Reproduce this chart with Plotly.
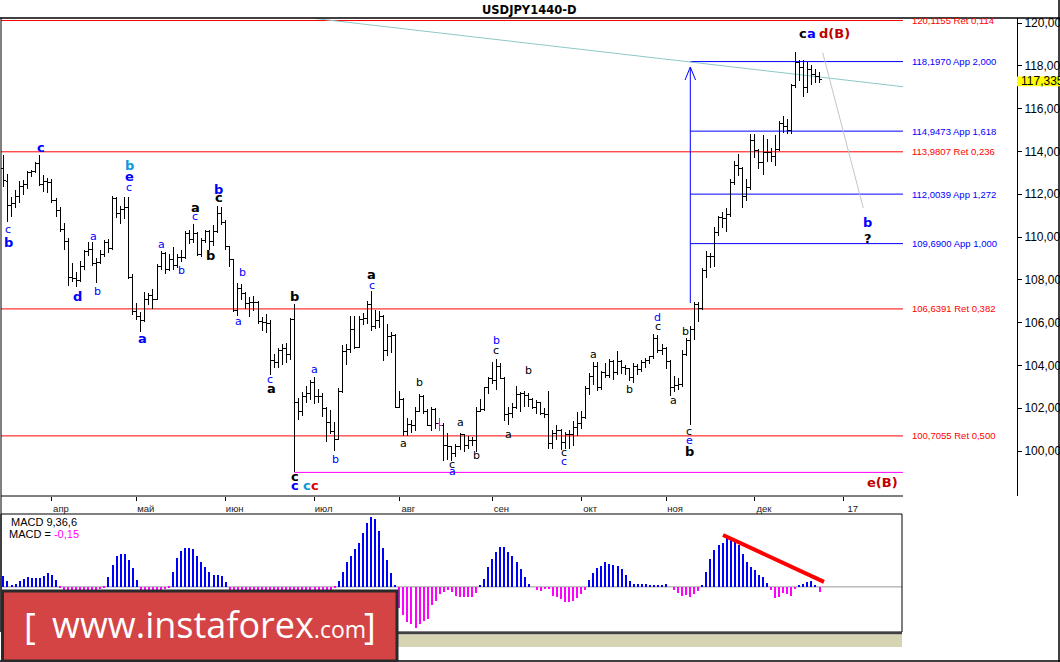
import pandas as pd
import plotly.graph_objects as go

# ------------------------------------------------------------------ data
dates = pd.bdate_range("2016-03-16", "2016-12-23")          # 203 daily bars
calendar = pd.bdate_range("2016-03-16", "2017-01-06")       # incl. future for "17" tick

opens = [
    113.20, 112.60, 111.45, 111.55, 111.90, 112.35, 112.45, 113.00, 113.05, 113.45, 112.45, 112.60,
    112.55, 111.70, 111.25, 110.35, 109.80, 108.10, 108.05, 107.95, 108.60, 109.30, 109.40, 108.75,
    108.80, 109.20, 109.75, 109.45, 111.80, 111.10, 111.30, 111.40, 108.10,
    106.50, 106.30, 106.10, 107.10, 107.25, 107.10, 108.60, 109.25, 108.50, 108.95, 108.65, 109.05,
    109.05, 110.15, 109.90, 110.15, 109.20, 109.85, 110.25, 109.80, 110.25, 111.10,
    110.70, 109.55, 108.95, 106.55, 107.60, 107.35, 106.90, 106.95, 106.95, 106.05, 106.00, 105.95,
    104.25, 104.15, 104.70, 104.80, 104.50, 106.15, 102.25, 101.85, 102.55, 102.70,
    103.20, 102.55, 102.55, 102.00, 101.35, 100.90, 100.55, 102.80, 104.65, 104.75, 105.70, 104.85,
    106.15, 106.20, 106.85, 105.80, 106.10, 106.30, 104.70, 105.35, 105.40,
    102.05, 102.40, 100.90, 101.25, 101.20, 101.85, 102.55, 101.85, 101.20, 101.95, 101.30, 101.20,
    100.25, 100.20, 99.90, 100.20, 100.75, 100.25, 100.50, 100.50, 101.85, 101.95, 102.95,
    103.40, 103.30, 103.95, 103.40, 101.70, 101.75, 102.05, 102.65, 102.70, 102.60, 102.40, 102.05,
    102.25, 101.75, 101.70, 100.35, 100.80, 100.95, 100.40, 100.75, 100.75, 101.10,
    101.30, 101.55, 102.90, 103.50, 103.95, 102.95, 103.65, 103.55, 104.20, 103.65, 104.20, 103.90,
    103.85, 103.45, 103.95, 103.80, 104.15, 104.25, 104.40, 105.25, 104.70,
    104.80, 104.20, 102.95, 103.05, 103.10, 104.50, 105.15, 105.70, 106.85, 106.65, 108.45, 109.10,
    109.10, 110.20, 110.90, 110.85, 111.05, 112.55, 113.35, 113.20, 111.90, 112.30,
    114.50, 114.05, 113.50, 113.95, 113.95, 113.75, 114.10, 115.30, 115.15, 115.00, 117.10, 118.15,
    117.90, 117.00, 117.85, 117.60, 117.50,
]
highs = [
    113.82, 112.95, 111.85, 112.20, 112.60, 112.65, 113.10, 113.15, 113.50, 113.82, 112.90, 112.75,
    112.70, 111.80, 111.40, 110.65, 109.95, 108.80, 108.35, 108.90, 109.40, 109.75, 109.75, 109.00,
    109.40, 109.85, 109.90, 111.90, 111.85, 111.45, 111.85, 111.88, 108.25,
    106.90, 106.50, 107.45, 107.40, 107.55, 108.75, 109.35, 109.30, 109.20, 109.55, 109.20, 109.40,
    110.30, 110.35, 110.60, 110.25, 109.95, 110.35, 110.35, 110.55, 111.45, 111.40,
    110.80, 109.60, 108.95, 107.85, 107.80, 107.45, 107.20, 107.25, 107.00, 106.25, 106.40, 106.10,
    104.55, 104.80, 105.00, 105.05, 106.20, 106.85, 102.50, 102.75, 103.05, 103.30,
    103.45, 102.90, 102.70, 102.05, 101.90, 101.35, 102.95, 104.95, 105.00, 106.30, 106.30, 106.30,
    106.45, 107.00, 107.50, 106.60, 106.55, 106.35, 105.95, 105.55, 105.45,
    102.80, 102.50, 101.55, 101.45, 102.05, 102.65, 102.60, 101.95, 102.05, 102.00, 101.55, 101.30,
    100.85, 100.25, 100.35, 100.85, 100.80, 100.70, 100.65, 102.05, 102.45, 103.00, 103.45,
    104.15, 104.30, 104.10, 103.45, 102.05, 102.25, 103.05, 102.75, 102.80, 102.70, 102.50, 102.40,
    102.25, 102.00, 102.80, 101.00, 101.20, 101.05, 100.90, 101.00, 101.40, 101.80,
    101.85, 103.05, 103.65, 104.15, 104.15, 103.75, 104.10, 104.30, 104.25, 104.65, 104.25, 104.00,
    103.90, 104.10, 104.05, 104.25, 104.35, 104.45, 105.45, 105.40, 105.00,
    104.85, 104.25, 103.50, 103.40, 104.70, 105.30, 105.85, 106.95, 106.95, 108.55, 109.35, 109.25,
    110.45, 111.00, 111.15, 111.35, 112.70, 113.55, 113.90, 113.25, 112.70, 114.80,
    114.80, 114.10, 114.75, 114.60, 114.15, 114.75, 115.40, 115.65, 115.50, 117.15, 118.66, 118.25,
    118.25, 118.20, 118.05, 117.85, 117.70,
]
lows = [
    112.35, 110.70, 110.95, 111.35, 111.60, 111.95, 112.25, 112.80, 113.00, 112.40, 112.10, 112.05,
    111.60, 110.95, 110.25, 109.40, 107.70, 107.90, 107.65, 107.90, 108.45, 109.10, 108.65, 107.85,
    108.75, 109.05, 109.25, 109.40, 110.90, 110.60, 110.85, 108.05, 106.35,
    106.10, 105.55, 106.05, 106.80, 106.65, 107.05, 108.45, 108.25, 108.40, 108.45, 108.55, 108.85,
    108.95, 109.65, 109.70, 109.10, 109.05, 109.70, 109.40, 109.60, 110.20, 110.55,
    109.40, 108.60, 106.50, 106.30, 107.05, 106.65, 106.25, 106.55, 105.95, 105.60, 105.50, 103.55,
    103.90, 103.90, 104.00, 104.10, 104.25, 99.00, 101.45, 101.65, 102.25, 102.40,
    102.20, 102.25, 101.60, 100.40, 100.80, 100.00, 100.55, 102.70, 104.00, 104.60, 104.75, 104.80,
    105.90, 105.95, 105.60, 105.70, 105.75, 104.20, 104.45, 104.60, 102.00,
    102.00, 100.70, 100.70, 100.85, 100.95, 101.80, 101.75, 101.15, 100.95, 101.05, 100.95, 99.55,
    99.60, 99.55, 99.70, 100.05, 99.95, 100.10, 100.25, 99.95, 101.80, 101.85, 102.65,
    103.15, 102.85, 103.35, 101.40, 101.20, 101.55, 101.95, 101.80, 102.05, 102.05, 101.95, 101.75,
    101.70, 101.55, 100.10, 100.10, 100.50, 100.05, 100.10, 100.10, 100.25, 100.70,
    101.05, 101.50, 102.60, 103.10, 102.80, 102.85, 103.40, 103.40, 103.30, 103.55, 103.60, 103.55,
    103.25, 103.20, 103.55, 103.70, 103.90, 104.05, 104.30, 104.60, 104.50,
    103.85, 102.55, 102.75, 102.85, 103.00, 104.45, 101.20, 105.20, 106.05, 106.60, 108.10, 108.55,
    108.60, 110.05, 110.40, 110.25, 110.95, 112.45, 112.85, 111.35, 111.70, 112.20,
    113.70, 113.20, 112.90, 113.50, 113.50, 113.30, 114.00, 114.85, 114.80, 114.80, 116.95, 117.30,
    116.55, 116.75, 117.10, 117.20, 117.20,
]
closes = [
    112.65, 111.45, 111.55, 111.90, 112.35, 112.45, 113.00, 113.05, 113.45, 112.45, 112.60, 112.55,
    111.70, 111.25, 110.35, 109.80, 108.10, 108.05, 107.95, 108.60, 109.30, 109.40, 108.75, 108.80,
    109.20, 109.75, 109.45, 111.80, 111.10, 111.30, 111.40, 108.10, 106.50,
    106.30, 106.10, 107.10, 107.25, 107.10, 108.60, 109.25, 108.50, 108.95, 108.65, 109.05, 109.05,
    110.15, 109.90, 110.15, 109.20, 109.85, 110.25, 109.80, 110.25, 111.10, 110.70,
    109.55, 108.95, 106.55, 107.60, 107.35, 106.90, 106.95, 106.95, 106.05, 106.00, 105.95, 104.25,
    104.15, 104.70, 104.80, 104.50, 106.15, 102.25, 101.85, 102.55, 102.70, 103.20,
    102.55, 102.55, 102.00, 101.35, 100.90, 100.55, 102.80, 104.65, 104.75, 105.70, 104.85, 106.15,
    106.20, 106.85, 105.80, 106.10, 106.30, 104.70, 105.35, 105.40, 102.05,
    102.40, 100.90, 101.25, 101.20, 101.85, 102.55, 101.85, 101.20, 101.95, 101.30, 101.20, 100.25,
    100.20, 99.90, 100.20, 100.75, 100.25, 100.50, 100.50, 101.85, 101.95, 102.95, 103.40,
    103.30, 103.95, 103.40, 101.70, 101.75, 102.05, 102.65, 102.70, 102.60, 102.40, 102.05, 102.25,
    101.75, 101.70, 100.35, 100.80, 100.95, 100.40, 100.75, 100.75, 101.10, 101.30,
    101.55, 102.90, 103.50, 103.95, 102.95, 103.65, 103.55, 104.20, 103.65, 104.20, 103.90, 103.85,
    103.45, 103.95, 103.80, 104.15, 104.25, 104.40, 105.25, 104.70, 104.80,
    104.20, 102.95, 103.05, 103.10, 104.50, 105.15, 105.70, 106.85, 106.65, 108.45, 109.10, 109.10,
    110.20, 110.90, 110.85, 111.05, 112.55, 113.35, 113.20, 111.90, 112.30, 114.50,
    114.05, 113.50, 113.95, 113.95, 113.75, 114.10, 115.30, 115.15, 115.00, 117.10, 118.15, 117.90,
    117.00, 117.85, 117.60, 117.50, 117.35,
]

macd = [
    0.32, 0.17, 0.06, 0.09, 0.17, 0.23, 0.29, 0.26, 0.26, 0.26, 0.32, 0.41, 0.35, 0.20,
    -0.03,
    -0.09, -0.12, -0.15, -0.17, -0.17, -0.17, -0.15, -0.12, -0.09, -0.06,
    -0.03,
    0.29, 0.64, 0.93, 0.99, 0.99, 0.81, 0.55, 0.20,
    -0.09, -0.12, -0.15, -0.15, -0.12, -0.09, -0.06,
    -0.03,
    0.46, 0.87, 1.07, 1.16, 1.16, 1.13, 0.93, 0.73, 0.58, 0.44, 0.35, 0.35, 0.32, 0.15,
    -0.09, -0.15, -0.20, -0.26, -0.29, -0.29, -0.26, -0.23, -0.23, -0.26, -0.32, -0.38, -0.41,
    -0.38, -0.35, -0.41, -0.46, -0.44, -0.38, -0.32, -0.26, -0.23, -0.17, -0.15, -0.12, -0.09,
    -0.03,
    0.17, 0.46, 0.75, 0.93, 1.13, 1.31, 1.62, 1.91, 2.09, 2.03, 1.68, 1.16, 0.81, 0.41, 0.06,
    -0.64, -0.84, -1.04, -1.10, -1.22, -1.10, -1.02, -0.96, -0.55, -0.41, -0.20, -0.15, -0.09,
    -0.15, -0.26, -0.29, -0.29, -0.29, -0.29, -0.17,
    0.03, 0.23, 0.58, 0.84, 1.04, 1.19, 1.19, 1.04, 0.93, 0.75, 0.52, 0.29, 0.09, 0.00,
    -0.09, -0.12, -0.06, -0.06, -0.26, -0.29, -0.35, -0.44, -0.44, -0.41, -0.32, -0.20, -0.09,
    0.20, 0.41, 0.55, 0.61, 0.73, 0.67, 0.64, 0.61, 0.52, 0.35, 0.17, 0.09, 0.09, 0.09, 0.09,
    0.06, 0.06, 0.06, 0.06, 0.09,
    0.00,
    -0.09, -0.17, -0.26, -0.23, -0.29, -0.20, -0.12,
    0.06, 0.44, 0.84, 1.10, 1.25, 1.31, 1.45, 1.39, 1.33, 1.25, 0.99, 0.73, 0.58, 0.49, 0.35,
    0.29, 0.12,
    -0.09, -0.32, -0.29, -0.17, -0.20, -0.26, -0.06,
    0.06, 0.09, 0.15, 0.17, 0.06,
    -0.15,
]
macd_last = -0.15

month_labels = ["апр", "май", "июн", "июл", "авг", "сен", "окт", "ноя", "дек", "17"]
price_ticks = [100, 102, 104, 106, 108, 110, 112, 114, 116, 118, 120]
fib_levels = [120.1155, 118.1970, 114.9473, 113.9807, 112.0039, 109.6900, 106.6391, 100.7055]
fib_tags = ["Ret 0,114", "App 2,000", "App 1,618", "Ret 0,236", "App 1,272", "App 1,000",
            "Ret 0,382", "Ret 0,500"]
last_price = 117.335
highlight_day = "2016-08-15"
arrow_day = "2016-11-09"
brexit_day = "2016-06-24"

# ------------------------------------------------------------ geometry
W, H = 1060, 662
ML, MR, MT, MB = 1, 43, 18, 30
PW, PH = W - ML - MR, H - MT - MB
BAR_PX, BAR0_PX = 4.04, 3.5
YEN_PX, Y120_PX = 21.4, 23.0


def px_x(px):
    return (px - ML) / PW


def px_y(py):
    return (H - MB - py) / PH


def bar_at(px):
    return (px - BAR0_PX) / BAR_PX


def price_at(py):
    return 120 - (py - Y120_PX) / YEN_PX


def fmt(v, n):
    return f"{v:.{n}f}".replace(".", ",")


idx = list(range(len(dates)))
month_idx = [i for i in range(1, len(calendar)) if calendar[i].month != calendar[i - 1].month]
end_idx = bar_at(903)
arrow_i = dates.get_loc(pd.Timestamp(arrow_day))
brexit_i = dates.get_loc(pd.Timestamp(brexit_day))
hl = dates.get_loc(pd.Timestamp(highlight_day))

fig = go.Figure()
fig.add_trace(go.Ohlc(
    x=idx, open=opens, high=highs, low=lows, close=closes,
    increasing=dict(line=dict(color="black", width=1)),
    decreasing=dict(line=dict(color="black", width=1)),
    tickwidth=0.5, xaxis="x", yaxis="y", hoverinfo="skip", showlegend=False,
))
# highlighted (selected) bar in magenta
fig.add_trace(go.Scatter(
    x=[hl, hl, None, hl - 0.5, hl, None, hl, hl + 0.5],
    y=[lows[hl], highs[hl], None, opens[hl], opens[hl], None, closes[hl], closes[hl]],
    mode="lines", line=dict(color="#ff00ff", width=1), xaxis="x", yaxis="y",
    hoverinfo="skip", showlegend=False,
))
fig.add_trace(go.Bar(
    x=idx, y=macd, width=0.27,
    marker=dict(color=["#0000ff" if v >= 0 else "#ff00ff" for v in macd], line=dict(width=0)),
    xaxis="x2", yaxis="y2", hoverinfo="skip", showlegend=False,
))

shapes = []
# fibonacci levels
for v, tag in zip(fib_levels, fib_tags):
    col = "#ff0000" if tag.startswith("Ret") else "#0000ff"
    x0 = bar_at(1) if tag.startswith("Ret") else arrow_i
    shapes.append(dict(type="line", xref="x", yref="y", x0=x0, x1=end_idx, y0=v, y1=v,
                       line=dict(color=col, width=1), layer="below"))
# magenta line at Brexit low
shapes.append(dict(type="line", xref="x", yref="y", x0=brexit_i, x1=end_idx,
                   y0=lows[brexit_i], y1=lows[brexit_i],
                   line=dict(color="#ff00ff", width=1), layer="below"))
# cyan trend line
shapes.append(dict(type="line", xref="x", yref="y", x0=bar_at(315), y0=price_at(18.5),
                   x1=end_idx, y1=price_at(86.7), line=dict(color="#8cc8c8", width=1), layer="below"))
# gray projection line
shapes.append(dict(type="line", xref="x", yref="y", x0=bar_at(822.7), y0=price_at(52.7),
                   x1=bar_at(863.3), y1=price_at(208), line=dict(color="#c4c4c4", width=1)))
# blue arrow
a_top = price_at(67)
shapes.append(dict(type="line", xref="x", yref="y", x0=arrow_i, x1=arrow_i,
                   y0=price_at(303), y1=a_top, line=dict(color="#0000ff", width=1)))
for dx in (-1.3, 1.3):
    shapes.append(dict(type="line", xref="x", yref="y", x0=arrow_i, y0=a_top,
                       x1=arrow_i + dx, y1=price_at(80), line=dict(color="#0000ff", width=1)))
# frame lines
shapes += [
    dict(type="line", xref="paper", yref="paper", x0=px_x(0), x1=px_x(1060), y0=px_y(18), y1=px_y(18),
         line=dict(color="black", width=1.5)),
    dict(type="line", xref="paper", yref="paper", x0=px_x(1), x1=px_x(1), y0=px_y(18), y1=px_y(632),
         line=dict(color="black", width=1)),
    dict(type="line", xref="paper", yref="paper", x0=px_x(1), x1=px_x(903), y0=px_y(496), y1=px_y(496),
         line=dict(color="black", width=1)),
    dict(type="line", xref="paper", yref="paper", x0=px_x(1059), x1=px_x(1059), y0=px_y(0), y1=px_y(662),
         line=dict(color="black", width=1.5)),
    dict(type="line", xref="paper", yref="paper", x0=px_x(0), x1=px_x(1060), y0=px_y(661), y1=px_y(661),
         line=dict(color="black", width=1.5)),
    # macd frame
    dict(type="rect", xref="paper", yref="paper", x0=px_x(1), x1=px_x(902), y0=px_y(632), y1=px_y(514),
         line=dict(color="black", width=1)),
    dict(type="line", xref="x2 domain", yref="y2", x0=0, x1=1, y0=0, y1=0,
         line=dict(color="#9a9a9a", width=1), layer="below"),
    dict(type="rect", xref="paper", yref="paper", x0=px_x(1), x1=px_x(902), y0=px_y(634.5), y1=px_y(632),
         fillcolor="#404040", line=dict(width=0)),
    dict(type="rect", xref="paper", yref="paper", x0=px_x(1), x1=px_x(902), y0=px_y(647), y1=px_y(634.5),
         fillcolor="#d6d4b2", line=dict(width=0)),
    # red trend line on MACD
    dict(type="line", xref="x2", yref="y2", x0=bar_at(723), y0=1.55, x1=bar_at(824), y1=0.15,
         line=dict(color="#ff0000", width=4)),
    # current price tag
    dict(type="rect", xref="paper", yref="paper", x0=px_x(1017), x1=px_x(1062), y0=px_y(86.3), y1=px_y(76.5),
         fillcolor="#ffff00", line=dict(width=0)),
    # logo box
    dict(type="rect", xref="paper", yref="paper", x0=px_x(2.5), x1=px_x(397), y0=px_y(661), y1=px_y(591),
         fillcolor="#d44444", line=dict(color="#2a2a2a", width=3), layer="above"),
]

ann = []
ann.append(dict(xref="paper", yref="paper", x=px_x(529), y=px_y(9.5), text="<b>USDJPY1440-D</b>",
                showarrow=False, font=dict(family="DejaVu Sans", size=11.5, color="black"),
                xanchor="center", yanchor="middle"))
for v, tag in zip(fib_levels, fib_tags):
    col = "#ff0000" if tag.startswith("Ret") else "#0000ff"
    ann.append(dict(xref="x", yref="y", x=bar_at(910), y=v, text=fmt(v, 4) + " " + tag,
                    showarrow=False, xanchor="left", yanchor="middle",
                    font=dict(family="Liberation Sans", size=9.5, color=col)))
ann.append(dict(xref="paper", yref="paper", x=px_x(1019), y=px_y(81.4), text=fmt(last_price, 3),
                showarrow=False, xanchor="left", yanchor="middle",
                font=dict(family="Liberation Sans", size=12, color="black")))
ann.append(dict(xref="paper", yref="paper", x=px_x(9), y=px_y(522), text="MACD 9,36,6",
                showarrow=False, xanchor="left", yanchor="middle",
                font=dict(family="Liberation Sans", size=11, color="black")))
ann.append(dict(xref="paper", yref="paper", x=px_x(7), y=px_y(534),
                text="MACD = <span style='color:#ff00ff'>" + fmt(macd_last, 2) + "</span>",
                showarrow=False, xanchor="left", yanchor="middle",
                font=dict(family="Liberation Sans", size=11, color="black")))
# logo text
ann.append(dict(xref="paper", yref="paper", x=px_x(30), y=px_y(625), text="[",
                showarrow=False, xanchor="center", yanchor="middle",
                font=dict(family="Open Sans", size=36, color="white")))
ann.append(dict(xref="paper", yref="paper", x=px_x(370), y=px_y(625), text="]",
                showarrow=False, xanchor="center", yanchor="middle",
                font=dict(family="Open Sans", size=36, color="white")))
ann.append(dict(xref="paper", yref="paper", x=px_x(50), y=px_y(624),
                text="www.instaforex<span style='font-size:23px'>.com</span>",
                showarrow=False, xanchor="left", yanchor="middle",
                font=dict(family="Open Sans", size=36, color="white")))

BLUE, BLACK, CYAN, RED, DRED = "#0000ff", "#000000", "#0a98dc", "#e00000", "#c00000"
wave_labels = [
    (8, 229, "c", BLUE, False), (8, 242, "b", BLUE, True), (40.7, 147.3, "c", BLUE, True),
    (129.3, 165, "b", CYAN, True), (129.3, 176.7, "e", BLUE, True), (129.3, 187.7, "c", BLUE, False),
    (93.3, 236, "a", BLUE, False), (161.7, 244, "a", BLUE, False), (195, 207, "a", BLACK, True),
    (195, 216, "c", BLUE, False), (218.7, 189, "b", BLUE, True), (218.7, 197.3, "c", BLACK, True),
    (210.7, 255, "b", BLACK, True), (77.7, 296.7, "d", BLUE, True), (97.3, 291, "b", BLUE, False),
    (142, 338.3, "a", BLUE, True), (181, 270, "b", BLUE, False), (242.3, 272.3, "b", BLUE, False),
    (238.3, 321.7, "a", BLUE, False), (270, 379, "c", BLUE, False), (271, 388.3, "a", BLACK, True),
    (294.7, 296, "b", BLACK, True), (294.7, 476.7, "c", BLACK, True), (294.7, 485.7, "c", BLUE, True),
    (306.7, 485.7, "c", CYAN, True), (314.7, 485.7, "c", RED, True), (314.3, 369.3, "a", BLUE, False),
    (335.3, 459, "b", BLUE, False), (371.7, 274.3, "a", BLACK, True), (371.7, 285.7, "c", BLUE, False),
    (419, 382, "b", BLACK, False), (403.3, 443.3, "a", BLACK, False), (460.7, 422.3, "a", BLACK, False),
    (452.3, 464.3, "c", BLACK, False), (452.7, 471.7, "a", BLUE, False), (476, 455, "b", BLACK, False),
    (496, 340, "b", BLUE, False), (496, 350.7, "c", BLACK, False), (508.7, 434.3, "a", BLACK, False),
    (528.3, 370, "b", BLACK, False), (564.3, 452.7, "c", BLACK, False), (564.3, 461.7, "c", BLUE, False),
    (593.3, 354, "a", BLACK, False), (629.3, 389, "b", BLACK, False), (657.7, 317.3, "d", BLUE, False),
    (657.7, 326.7, "c", BLACK, False), (673.3, 400.7, "a", BLACK, False), (685.3, 331.7, "b", BLACK, False),
    (689, 431.7, "c", BLACK, False), (689, 440.7, "e", BLUE, False), (689, 451.7, "b", BLACK, True),
    (803.3, 33.3, "c", BLACK, True), (811, 33.3, "a", BLUE, True), (834, 33.3, "d(B)", DRED, True),
    (867.7, 222.7, "b", BLUE, True), (867.7, 238.3, "?", BLACK, True), (882, 482.7, "e(B)", DRED, True),
]
for (xp, yp, t, c, b) in wave_labels:
    ann.append(dict(xref="x", yref="y", x=bar_at(xp), y=price_at(yp),
                    text=f"<b>{t}</b>" if b else t, showarrow=False,
                    xanchor="center", yanchor="middle",
                    font=dict(family="DejaVu Sans", size=13 if b else 11, color=c)))

fig.update_layout(
    width=W, height=H,
    margin=dict(l=ML, r=MR, t=MT, b=MB, pad=0, autoexpand=False),
    paper_bgcolor="white", plot_bgcolor="white",
    showlegend=False, hovermode=False,
    shapes=shapes, annotations=ann,
    xaxis=dict(domain=[0, 1], range=[bar_at(1), bar_at(1017)], anchor="y",
               showgrid=False, zeroline=False, showline=False,
               ticks="outside", ticklen=4, tickcolor="black", tickwidth=1,
               tickvals=month_idx, ticktext=month_labels, ticklabelshift=9,
               tickfont=dict(family="Liberation Sans", size=9.5, color="#222222"),
               rangeslider=dict(visible=False), fixedrange=True),
    yaxis=dict(domain=[px_y(496), 1], range=[price_at(496), price_at(18)], anchor="x",
               side="right", showgrid=False, zeroline=False, showline=True,
               linecolor="black", linewidth=1, ticks="outside", ticklen=4, tickcolor="black",
               tickvals=price_ticks, ticktext=[fmt(v, 3) for v in price_ticks],
               tickfont=dict(family="Liberation Sans", size=12, color="black"), fixedrange=True),
    xaxis2=dict(domain=[0, px_x(902)], range=[bar_at(1), bar_at(902)], anchor="y2", visible=False),
    yaxis2=dict(domain=[0, px_y(514)], range=[-1.35, 2.18], anchor="x2", visible=False),
    bargap=0,
)

post = (
    "document.body.style.margin='0px';document.body.style.padding='0px';"
    "document.body.style.overflow='hidden';"
    "var gd=document.getElementById('{plot_id}');"
    "gd.querySelectorAll('g.trace path, g.point path').forEach(function(p){"
    "p.style.shapeRendering='crispEdges';});"
)
fig.write_html("out.html", post_script=post, config={"displayModeBar": False})
